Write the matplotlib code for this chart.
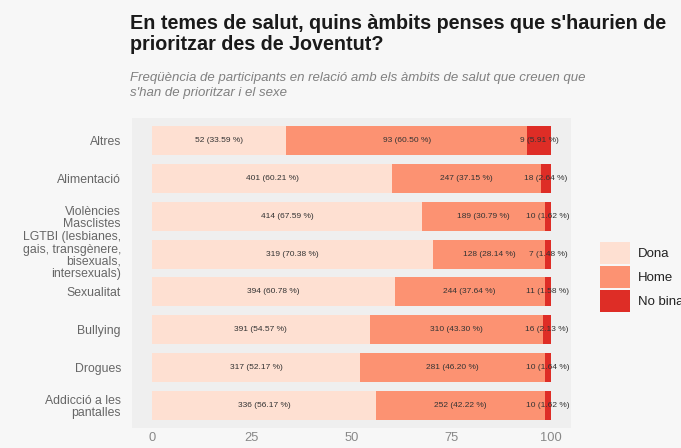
import matplotlib
matplotlib.use("Agg")
import matplotlib.pyplot as plt
from matplotlib.patches import Patch

categories = ["Altres", "Alimentació", "Violències\nMasclistes",
              "LGTBI (lesbianes,\ngais, transgènere,\nbisexuals,\nintersexuals)",
              "Sexualitat", "Bullying", "Drogues", "Addicció a les\npantalles"]
series = ["Dona", "Home", "No binari"]
counts_dona = [52, 401, 414, 319, 394, 391, 317, 336]
counts_home = [93, 247, 189, 128, 244, 310, 281, 252]
counts_nb = [9, 18, 10, 7, 11, 16, 10, 10]
pct_dona = [33.59, 60.21, 67.59, 70.38, 60.78, 54.57, 52.17, 56.17]
pct_home = [60.50, 37.15, 30.79, 28.14, 37.64, 43.30, 46.20, 42.22]
pct_nb = [5.91, 2.64, 1.62, 1.48, 1.58, 2.13, 1.64, 1.62]
xticks = [0, 25, 50, 75, 100]
colors = ["#fee0d2", "#fc9272", "#de2d26"]

title = "En temes de salut, quins àmbits penses que s'haurien de\nprioritzar des de Joventut?"
subtitle = "Freqüència de participants en relació amb els àmbits de salut que creuen que\ns'han de prioritzar i el sexe"

plt.rcParams['font.family'] = ['Liberation Sans', 'DejaVu Sans']

W, H = 681, 448
fig = plt.figure(figsize=(W / 100, H / 100), dpi=100)
fig.patch.set_facecolor("#f7f7f7")
ax = fig.add_axes([132 / W, 1 - 428 / H, (571 - 132) / W, (428 - 118) / H])
ax.set_facecolor("#efefef")

y = list(range(len(categories)))
counts = [counts_dona, counts_home, counts_nb]
pcts = [pct_dona, pct_home, pct_nb]
left = [0.0] * len(categories)
for s, (c, p, col) in enumerate(zip(counts, pcts, colors)):
    ax.barh(y, p, left=left, height=0.77, color=col, edgecolor="none", label=series[s])
    for i in range(len(categories)):
        ax.text(left[i] + p[i] / 2, y[i], f"{c[i]} ({p[i]:.2f} %)",
                ha="center", va="center", fontsize=6.0, color="#333333")
    left = [l + v for l, v in zip(left, p)]

ax.set_xlim(-5, 105)
ax.set_ylim(len(categories) - 0.4, -0.6)
ax.set_xticks(xticks)
ax.set_xticklabels([str(t) for t in xticks])
ax.set_yticks(y)
ax.set_yticklabels(categories, linespacing=1.02)
ax.tick_params(axis="both", length=0)
ax.tick_params(axis="x", pad=3, labelsize=9.3, labelcolor="#888888")
ax.tick_params(axis="y", pad=8, labelsize=8.8, labelcolor="#666666")
for sp in ax.spines.values():
    sp.set_visible(False)

fig.text(130 / W, 1 - 14 / H, title, ha="left", va="top", fontsize=14.2,
         fontweight="bold", color="#1a1a1a", linespacing=1.1)
fig.text(130 / W, 1 - 72 / H, subtitle, ha="left", va="top", fontsize=9.55,
         style="italic", color="#808080", linespacing=1.3)

handles = [Patch(facecolor=c, edgecolor="none") for c in colors]
fig.legend(handles, series, loc="center left", bbox_to_anchor=(600 / W, 1 - 277 / H),
           frameon=False, fontsize=9.5, handlelength=2.3, handleheight=2.2,
           labelspacing=0.15, handletextpad=0.6, borderaxespad=0, borderpad=0,
           labelcolor="#222222")

fig.savefig("out.png", dpi=100, facecolor=fig.get_facecolor())
